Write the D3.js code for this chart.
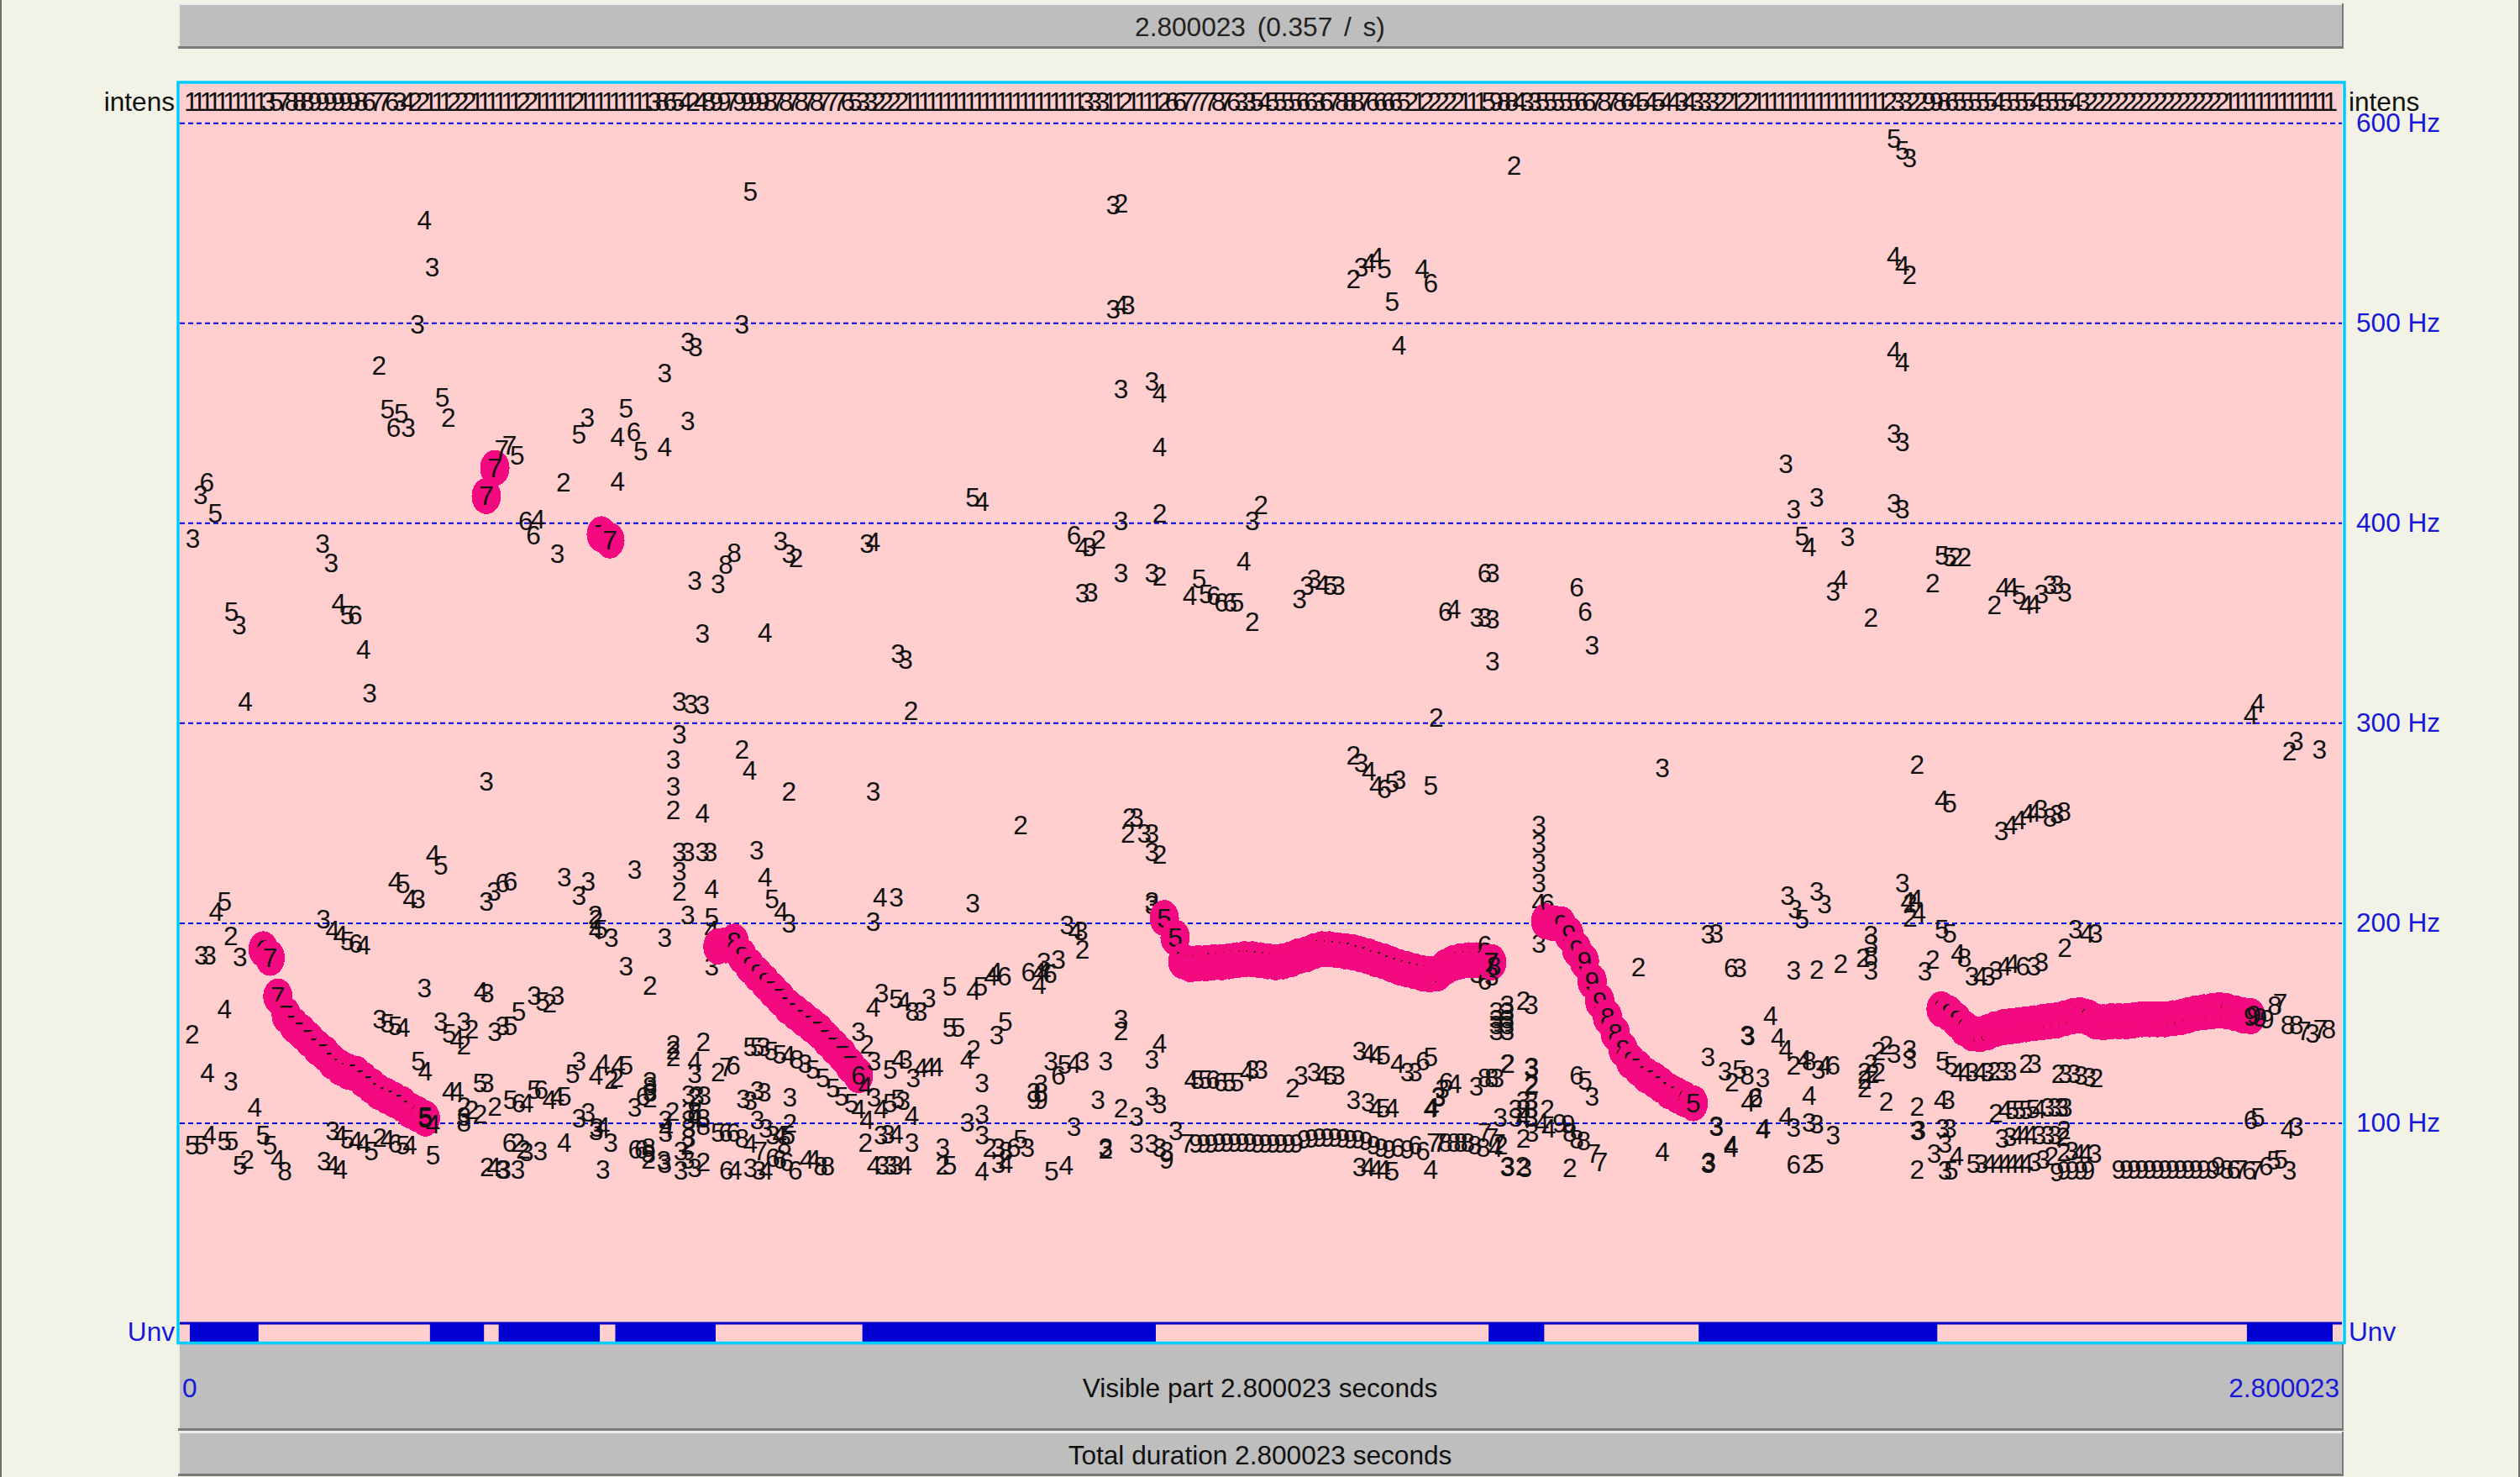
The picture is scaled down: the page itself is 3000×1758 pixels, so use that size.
<!DOCTYPE html>
<html><head><meta charset="utf-8">
<script src="https://cdn.jsdelivr.net/npm/d3@7"></script>
<style>html,body{margin:0;padding:0;background:#f2f3e6;overflow:hidden}svg{display:block}</style>
</head><body><svg id="c" width="3000" height="1758"></svg>
<script>
// ---- values: time is in centiseconds (0.01 s frames), frequency in Hz, third item the strength digit
const totalCs = 280.0023;
const hzTicks = [100,200,300,400,500,600];
const titleText = "2.800023 (0.357 / s)";
const visibleText = "Visible part 2.800023 seconds";
const totalText = "Total duration 2.800023 seconds";
const timeStartLabel = "0", timeEndLabel = "2.800023";
const unvoiced = [[1.3,10.2],[32.4,39.4],[41.3,54.4],[56.4,69.4],[88.4,126.4],[169.5,176.7],[196.7,227.6],[267.7,278.8]];
const intensity =
 "1111111111"+"3578889999"+"9986776342"+"2111222111"+"1112211111"+"2111111111"+"3865424899"+"7999987878"+"7877765332"+
 "2221111111"+"1111111111"+"1111113331"+"1211112667"+"7778763354"+"5555663678"+"8876666521"+"2222211159"+"8843355555"+
 "6678786454"+"5443433322"+"1221111111"+"1111111111"+"2332299865"+"5555455554"+"5555432222"+"2222222222"+"2222111111"+"11111111";

const pitchTrack = [
 [10.8,187,6],[11.7,182.7,7],
 [12.7,163.4,7],[13.8,154,7],[14.8,149,7],[15.8,145.6,7],[16.8,141.9,7],[17.8,137.9,7],[18.8,134.9,7],[19.8,130.8,7],[20.8,127.8,7],[21.8,125.8,7],[22.8,124.8,7],[23.8,121.7,7],[24.8,118.7,7],[25.8,115.6,7],[26.8,113.6,7],[27.8,111.6,7],[28.8,109.6,7],[29.8,106.5,7],[30.8,104.5,6],[31.8,102.4,5],
 [39.7,413.6,7],[40.8,427.6,7],[54.6,394.5,7],[55.7,391.4,7],
 [69.7,188.4,7],[70.7,189,7],[71.8,190.8,8],[72.8,183.7,8],[73.8,178.7,8],[74.8,174.6,8],[75.8,170.5,8],[76.8,166.5,7],[77.8,162.4,7],[78.8,158.3,7],[79.8,155.3,7],[80.8,152.2,7],[81.8,149.2,7],[82.8,146,7],[83.8,142,7],[84.8,138,7],[85.8,134,7],[86.8,129,7],[87.9,124,6],
 [127.5,202.6,5],[128.9,192.9,5],[129.9,181,7],[130.9,179.5,7],[131.9,180,7],[132.9,180,7],[133.9,180.5,7],[134.9,180.5,7],[135.9,181,7],[136.9,181.5,7],[137.9,182,7],[138.9,182,7],[139.9,181.5,7],[140.9,181,7],[141.9,180.5,7],[142.9,181,7],[143.9,182,7],[144.9,183.5,7],[145.9,184.5,7],[146.9,186,7],[147.9,187,7],[148.9,187,7],[149.9,186.5,7],[150.9,186,7],[151.9,185.5,7],[152.9,184.5,7],[153.9,183.5,7],[154.9,182,7],[155.9,181,7],[156.9,179.5,7],[157.9,178,7],[158.9,177,7],[159.9,176,7],[160.9,175,7],[161.9,174.5,7],[162.9,175,7],[163.9,178,7],[164.9,180,7],[165.9,181,7],[166.9,181.5,7],[167.9,181.5,7],[168.9,181.5,7],[169.9,180.5,7],
 [176.9,201,9],[177.9,200,9],[178.9,199.5,9],[179.9,194.5,9],[180.9,187,9],[181.9,181,9],[182.9,171,9],[183.9,161,9],[184.9,153,8],[185.9,145,8],[186.9,137,8],[187.9,131,8],[188.9,127.5,7],[189.9,124,7],[190.9,121.7,7],[191.9,119,7],[192.9,116,7],[193.9,114,7],[194.9,112,6],[196,110,5],
 [228.1,157,8],[229.1,155,8],[230.1,151.5,8],[231.1,147.5,8],[232.1,145,8],[233.1,144.5,8],[234.1,145.5,8],[235.1,147,8],[236.1,148,8],[237.1,148.5,8],[238.1,149,8],[239.1,149.5,8],[240.1,150,8],[241.1,150.5,8],[242.1,151,8],[243.1,151.5,8],[244.1,152.5,8],[245.1,153.5,8],[246.1,154,8],[247.1,153,8],[248.1,151,8],[249.1,150.5,8],[250.1,151,8],[251.1,151,8],[252.1,151,8],[253.1,151.5,8],[254.1,152,8],[255.1,152,8],[256.1,152,8],[257.1,152,8],[258.1,152.5,8],[259.1,153,8],[260.1,154,8],[261.1,155,8],[262.1,155.5,8],[263.1,156,8],[264.1,156.5,8],[265.1,156,8],[266.2,155,9],[267.2,154,9],[268.2,153.5,9]
];

const candidatesHighLeft = [
 [1.7,392.5,3],[3.5,420.6,6],[2.7,414,3],[4.6,405,5],[6.7,355.6,5],[7.7,349,3],[8.5,311,4],[18.5,390,3],[19.6,380,3],[20.6,360,4],[21.7,354,5],[22.7,354,6],[23.8,337,4],[24.6,315,3],[25.8,479,2],[26.9,457,5],[27.7,448,6],[28.7,455,5],[29.6,448,3],[30.8,499.5,3],[31.7,551.6,4],[32.7,528,3],[34,463,5],[34.8,453,2],
 [41.7,437,7],[42.7,439,7],[43.7,434,5],[44.8,401,6],[46.4,402,4],[45.8,394,6],[48.9,385,3],[49.7,420.5,2],[56.7,421,4],[51.7,444.5,5],[52.8,452.7,3],[56.7,443,4],[58.8,445.5,6],[57.8,457.5,5],[59.7,436,5],[62.8,438,4],[65.8,451,3],[62.8,475,3],[65.8,490.5,3],[66.8,488,3],[72.8,499.6,3],[73.9,566,5],
 [66.7,371.4,3],[69.7,369.6,3],[70.7,379.4,8],[71.8,385.3,8],[77.8,391,3],[78.9,385,3],[79.8,382.9,2],[67.7,344.7,3],[75.8,345.5,4],[64.7,311,3],[66.2,309.4,3],[67.7,309,3],[64.7,294.4,3],[63.9,282,3],[63.9,268.5,3],[63.9,256.7,2],[67.7,255,4],[72.8,287,2],[73.8,276.5,4],[78.9,266,2],[39.7,270.8,3]
];

const candidatesLowLeft = [
 [32.8,234.6,4],[33.8,229,5],[27.9,221,4],[28.9,219.7,5],[29.8,212,4],[30.9,212,3],[39.7,211,3],[40.7,216,3],[41.8,220,6],[42.8,221,6],[49.8,223,3],[51.7,214,3],[52.9,221,3],[58.9,227,3],[53.8,204,2],[53.9,196.5,4],[53.9,202,2],[54.5,197,5],[55.9,193,3],[62.8,193,3],[57.8,178.6,3],[60.9,169,2],
 [64.7,235.6,3],[65.8,235.6,3],[67.7,235.6,3],[68.7,235.6,3],[74.7,236.6,3],[64.7,226,3],[64.7,216,2],[68.9,217,4],[75.8,223,4],[76.7,212,5],[77.9,206,4],[78.9,200,3],[65.8,204,3],[68.9,203,5],[68.9,196.5,4],[68.9,178.6,3],
 [5.8,211,5],[4.7,206,4],[6.6,193.5,2],[2.8,184,3],[3.8,184,3],[7.8,183,3],[18.6,202,3],[19.8,196.5,4],[20.8,194,4],[21.7,191,5],[22.8,190,6],[23.8,189,4],[31.7,167.5,3],[39,166,4],[39.8,165,3],[5.8,157,4],[1.6,144.7,2],
 [25.9,152,3],[26.9,150,5],[27.9,148.6,5],[28.9,148,4],[33.8,151,3],[36.8,151,3],[34.9,145,5],[35.9,142,4],[37.8,147,2],[36.8,139,2],[40.8,145.7,3],[41.8,148.6,3],[42.8,148.6,5],[43.9,156,5],[45.9,164,3],[47,161,5],[47.9,160,2],[48.9,164,3],[30.9,131,5],[31.8,126,4],[3.6,125,4],[6.6,121,3],[9.7,108,4],
 [34.9,116,4],[35.9,116,4],[38.9,120,5],[39.8,120,3],[40.8,108.5,2],[42.8,111.6,5],[43.9,110,6],[44.9,110,4],[45.9,116.7,5],[46.8,116.7,6],[47.9,111.6,4],[48.9,113.6,4],[49.8,113.6,5],[36.8,108.5,2],[36.8,103.5,3],[36.8,100.4,8],[37.8,106.5,2],[38.9,104.5,2],[51.7,102.4,3],[52.9,105.5,3],[53.9,96,3],[54.8,98.4,4],[50.9,124.8,5],[51.7,131,3],[53.9,123.8,4],[54.8,130,4],[55.9,121.7,2],[56.6,122.8,2],[56.8,128.9,4],[57.8,128.9,5],
 [60.9,121,3],[60.9,118.4,8],[60.9,115.6,3],[60.9,112.5,2],[60,113.5,6],[58.9,108,3],[63.9,139.4,2],[63.9,136.6,2],[63.9,133,2],[67.8,140.8,2],[66.7,131,4],[66.7,124.7,3],[69.7,125.4,2],[70.8,128,7],[71.7,129,6],
 [73.9,138,5],[74.8,138,5],[75.6,138,3],[76.6,136,5],[77.7,134.5,5],[78.8,133.8,4],[79.9,131.7,8],[81,129.6,3],[82,126.8,5],[83.3,122.6,5],[84.6,117.7,5],[85.7,113.5,5],[87,110,5],
 [88.8,118.4,4],[89.9,112.8,3],[90.8,107,4],[89.9,131,3],[89,139.4,2],[87.9,145.7,3],[92,126.8,5],[93.1,131.7,4],[94,131.7,3],[95,122.6,3],[96,127.5,4],[97,128,4],[98,128,4],[89,101.6,4],[87.9,107,4],[92,110,5],[93,112,5],[93.7,111.4,3],[94.8,103.7,4],
 [73,112,3],[73.9,111.4,3],[74.8,116.3,3],[75.7,115.6,3],[79,112.8,3],[74.8,101.6,3],[75.9,97.4,3],[76.8,93.9,3],[79,100,2],[77.7,93.9,4],[78.8,93.9,5],
 [54,98,3],[55.8,90.4,3],[49.8,90.4,4],[46.7,86,3],[42.7,90.4,6],[43.8,90.4,2],[44.5,87,2],[44.9,85.5,3],[43.8,77,3],[42,77,3],[59,87,6],[59.8,87,6],[60.7,87.6,8],[60.7,84.8,3],[60.7,82,2],[62.7,81.3,3],[64.9,86,3],[64.9,76.4,3],[65.8,82,3],[65.8,89,2],[66.7,77.8,3],[67.8,80.6,2],[65.9,93,3],[65.9,97.4,3],
 [63.8,105.8,2],[62.9,101.6,3],[63,97.4,4],[62.9,95.3,3],[65.9,114.2,3],[67,114,3],[67.9,114,3],[66.7,112.8,2],[65.9,101.6,3],[66.7,102.3,4],[67.8,102.3,3],[67.8,98.8,8],[65.9,105.8,3],[66.7,105.8,8],
 [69.7,95.3,5],[70.7,95.3,6],[71.7,95.3,6],[72.8,92.5,8],[73.9,89.7,4],[75.2,86,7],[76.8,82.7,6],[77.7,82,6],[78.6,80.6,6],[79.7,76.4,6],[81.2,82,4],[82.1,82,4],[83,78.5,8],[83.9,78.5,8],[78.3,89,8],[70.8,76.4,6],[71.9,76.4,4],[73.9,77.8,3],[75,76.4,3],[75.9,76.4,4],
 [88.8,90.4,2],[90.8,93.9,3],[91.7,94.6,3],[92.8,94.6,4],[94.8,90.4,3],[89.9,79,4],[91,79,3],[92,79,3],[92.8,79,3],[93.9,79,4],
 [1.6,89,5],[2.8,89,5],[3.8,94,4],[5.8,91,5],[6.7,91,5],[7.8,79,5],[8.7,82,2],[10.8,94,5],[11.7,89,5],[12.7,82,4],[13.6,76,8],[19.8,96,3],[20.8,94,4],[21.7,92,5],[22.8,91,4],[23.8,90,4],[24.8,86,5],[25.9,93,2],[26.9,92,4],[27.9,90,6],[28.9,89,5],[29.8,89,4],[32.8,84,5],[18.7,81,3],[19.8,79,4],[20.8,77,4],[39.8,78,2],[40.7,78,4],[41.8,77,3],[31.8,103.5,5],[32.8,99.4,4],[54.8,77,3],[62.8,80,3]
];

const candidatesHighMiddle = [
 [172.8,579,2],[120.9,559,3],[121.9,560,2],[152,522,2],[153,528,3],[154,530,4],[155,533,4],[156,527,5],[160.9,527,4],[162,520,6],[157,511,5],[120.9,507,3],[121.9,509,4],[122.8,509,3],[157.9,489,4],[121.9,467,3],[125.9,471,3],[126.9,465,4],[126.9,438,4],[102.7,413,5],[103.9,411,4],[121.9,401,3],[126.9,405,2],[140,409,2],[138.9,401,3],[115.8,394,6],[116.9,388,4],[117.8,388,3],[119,392,2],[89,390,3],[89.8,390.5,4],[121.9,375,3],[125.9,375,3],[126.9,373.5,2],[137.8,381,4],[116.9,365,3],[118,365.5,3],
 [132,372,5],[130.8,363.6,4],[132.9,364.6,5],[133.9,363.6,6],[134.9,360.6,6],[136,360.6,6],[136.9,360.6,5],[138.9,350.7,2],[145,362,3],[146,369,3],[146.9,372,3],[148,369.4,4],[149,369,5],[150,369,3],[169,375,6],[170,375,3],[163.9,356,6],[165,357,4],[168,353,3],[169,353,3],[170,352,3],[180.9,368,6],[182,356,6],[182.9,339,3],[170,331,3],[93,335,3],[94,332,3],[94.7,306.4,2],[162.7,303,2],
 [89.8,266,3],[108.9,249,2],[152,284,2],[153,280,3],[154,276,4],[155,269,4],[156,267,6],[157,270,5],[157.9,272,3],[162,269,5],[192,277.5,3],[176,249,3],[123,253,2],[123.9,253,3],[122.8,245,2],[124.9,245,3],[125.9,245,3],[126.9,234.6,2],[125.9,235.6,3]
];

const candidatesLowMiddle = [
 [90.7,213,4],[92.8,213,3],[89.8,201,3],[102.7,210,3],[114.9,199,3],[116,196,4],[116.7,196,3],[116.9,187,2],[125.9,209,3],[99.7,168.5,5],[97,162.4,3],[92.8,162,5],[93.8,161,4],[94.9,156,8],[95.9,156,3],[89.8,158,4],[90.9,165,3],[102.8,166.5,4],[103.7,168.5,5],[105.6,175.6,4],[105.1,173.6,4],[106.8,173.6,6],[109.9,175.6,6],[111.3,175.6,4],[111.9,175.6,4],[112.7,174.6,6],[111.3,169.5,4],[111.9,180.7,3],[113.8,181.7,3],
 [99.7,148,5],[100.8,148,5],[105.8,144,3],[106.9,151,5],[102.8,137,2],[102,132,4],[103.9,120,3],[112.8,131,3],[114.6,129.5,5],[115.8,130,4],[116.9,131,3],[113.8,123.8,6],[119.9,131,3],[111.5,119.7,3],[111.5,115.6,8],[111.5,111.6,9],[110.6,115.6,3],[110.6,111.6,9],[121.9,152,3],[121.9,146,2],[126.9,140,4],[125.9,132,3],[118.9,111.6,3],[121.9,107.5,2],[123.9,103.5,3],[125.9,113.6,3],[126.9,109.6,3],[115.8,98.4,3],
 [102,100.4,3],[103.9,104.5,3],[103.9,94.3,3],[98.8,88,3],[99.7,79,5],[98.8,79,2],[104.9,88,2],[106,88,3],[107,86,8],[108.9,92,5],[109.8,88,3],[108,88,6],[103.9,76,4],[106,80,3],[107,80,4],[112.9,76,5],[114.8,79,4],[119.9,88,3],[119.9,87,2],[123.9,90,3],[125.9,90,3],[126.9,88,3],[127.8,86,3],[127.8,82,9],[129,96.3,3],
 [130.5,90,7],[131.6,90,9],[132.6,90,9],[133.6,90,9],[134.6,90.5,9],[135.6,90.5,9],[136.6,90.5,9],[137.6,90.5,9],[138.6,90.5,9],[139.6,90,9],[140.6,90,9],[141.6,90,9],[142.6,90,9],[143.6,90,9],[144.6,90,9],[145.6,92,9],[146.6,92.5,9],[147.6,93,9],[148.6,93,9],[149.6,93,9],[150.6,92.5,9],[151.6,92,9],[152.6,92,9],[153.6,91,9],[154.6,89,9],[155.6,88,9],[156.6,87,9],[157.7,88,6],[159,87,9],[160,89,6],[161,86,6],
 [162.4,90.4,7],[163.2,90.4,7],[163.9,90.4,8],[165,90.4,8],[165.9,90.4,8],[166.8,90.4,8],[167.7,89,8],[169,95.3,7],[169.9,93,7],[170.8,90,7],[170.4,87.6,4],[171.1,89,2],[168.8,87.6,8],[172,78.5,3],[173.9,78.5,2],[174.2,77.8,3],[174,92.5,2],[175.1,95.3,3],[171,103,3],[173,107,3],[174,111.4,3],[175,111.4,3],[173,103,3],[174,107,3],[175,107,3],[174,103,4],[175,103,3],[175.1,119.8,2],[175.1,128.2,3],[172,129.6,2],[167.9,118.4,3],[169,122.6,8],[169.9,122.6,8],[170.6,122.6,3],
 [163.5,117,3],[164,120.5,6],[165.1,119.8,4],[163,112.8,3],[162.2,108,4],[180.9,124,6],[182,121.2,5],[182.9,113.5,3],[180,77.8,2],[183.1,84.8,7],[184,80.6,7],[177.1,107,2],[177.3,97.4,4],[176.4,100,4],[178.7,100,9],[179.8,99.5,9],[180,95.3,8],[180.9,91.8,8],[181.8,91,8],[192,85.5,4],[198,80.6,3],[200.9,89,4],[199,98.8,3],[205.1,97.4,4],
 [200.1,126,3],[202,126.8,5],[201,120.5,2],[203,124,8],[205,122.6,3],[204.1,112.8,6],[203,144,3],
 [144.1,117.7,2],[145.2,123.8,3],[146.9,125.8,3],[148,123.8,4],[149,123.8,5],[150,123.8,3],[131,121.7,4],[131.8,121.7,5],[132.8,121.7,5],[133.8,121.7,6],[134.8,120.7,6],[135.9,120.7,5],[136.9,120.7,5],[138.2,125.8,4],[138.9,126.8,3],[140,126.8,3],
 [152.8,136,3],[153.9,135,4],[154.9,134,4],[155.9,134,5],[157.7,130,4],[159,125.8,3],[160,125.8,3],[161,131,6],[162,133,5],[152,111.6,3],[153.9,110.6,3],[154.9,107.5,4],[155.9,107.5,5],[157,107.5,4],[162,107.5,4],[163,113.6,3],[152.8,78,3],[153.9,78,4],[154.9,77,4],[155.9,77,4],[157,76,5],[162,77,4],[171.9,78,3],[175,127.8,3],[171.9,130,2],
 [176,240,3],[176,230,3],[176,220,3],[176,210,4],[177.1,210,6],[176,190,3],[169,189,6],[169.8,180.7,7],[170.2,178.6,8],[169,171.5,6],[168,174.6,3],[169.9,173.6,3],[174,161.4,2],[175,159.3,3],[171.9,159.3,3],[170.5,156,3],[170.5,152,3],[170.5,149,3],[170.5,146,3],[171.9,156,3],[171.9,152,3],[171.9,149,3],[171.9,146,3],[175,118.7,2],[188.9,178.3,2],[125.9,211,3]
];

const candidatesRight = [
 [223.1,220,3],[224.8,212,4],[224.1,210,2],[223.8,211,4],[224.1,203,2],[225.2,205,4],[208.2,214,3],[209.2,207,3],[210.1,202,5],[212,216,3],[213,209.5,3],[197.9,194.5,3],[199,195,3],[219,194,3],[219,190,3],[218,182.7,2],[219,183.7,8],[219,176.6,3],[200.9,177.6,6],[202,177.6,3],[209,176.6,3],[212,177,2],[215.1,179.7,2],
 [228.2,197,5],[229.2,195,5],[230.3,184.8,4],[231.1,182.7,8],[227,181.7,2],[226,176,3],[232.1,173.6,3],[233.2,173.6,4],[234.2,173.6,3],[235.2,176.6,3],[236.3,178.6,4],[237.3,179.7,4],[238.7,178.6,6],[240.1,178.6,3],[241.1,180.7,3],[244.1,187.8,2],[245.5,197,3],[247,195,4],[248.1,195,3],
 [206,153.9,4],[203.1,143.7,3],[207,143,4],[208,137,4],[209,128.9,2],[210.4,132,4],[211,131,8],[212.2,126.8,3],[213,128.9,4],[214.1,128.9,6],[197.9,133,3],[203.1,110.6,4],[204,112.6,2],[211,114,4],[208,103.5,4],[209,97.8,3],[211,100.4,3],[212,99.4,3],[214.1,94.3,3],[205,97,4],[199,98.4,3],[200.9,88,4],[197.9,80,3],[209,79.5,6],[211,80,2],[212,80,5],
 [221,139,2],[220,136,2],[222,135,3],[224,137,3],[224,132,3],[219,130,2],[220,125.8,2],[218.2,125.8,2],[218.2,121.7,2],[218.2,117.7,2],[219.2,124.8,2],[221,111,2],[225,108.5,2],[225,96.3,3],[225.2,96.7,3],[225,77,2],[228.1,111.6,4],[229,111.6,3],[228.3,97.4,3],[229.2,97.4,3],[228.6,89.7,3],[227.2,84.8,3],[230.1,83.4,4],[228.6,76.4,3],[229.4,76.4,5],
 [232.3,79.9,5],[233.3,79.9,3],[234.4,79.9,4],[235.5,79.9,4],[236.4,79.9,4],[237.3,79.9,4],[238.2,79.9,4],[239.1,79.9,4],[240.2,80.6,3],[241.3,82,3],[242.4,83.4,2],[243.1,75.7,9],[244,76.4,9],[245.1,76.4,9],[246.2,76.4,9],[247.1,76.4,9],[244,85.5,2],[245,86.2,3],[245.9,84.8,4],[246.8,84.8,4],[248,84.8,3],
 [251.1,77,9],[252.1,77,9],[253.1,77,9],[254.1,77,9],[255.1,77,9],[256.1,77,9],[257.1,77,9],[258.1,77,9],[259.1,77,9],[260.1,77,9],[261.1,77,9],[262.1,77,9],[263.3,77,9],[264,78.5,9],[265.1,77,8],[266,77,6],[266.9,77,7],[268,76.4,6],[268.9,76.4,7],[270.2,78.5,6],[271.2,81.3,5],[272.1,82,5],[273.2,76.4,3],
 [236,92.5,3],[237,93.2,3],[237.9,93.9,4],[238.8,93.9,4],[239.7,93.9,4],[240.8,93.9,3],[241.9,93.9,3],[242.8,93.9,3],[244,96.7,2],[243.9,93.2,2],[235.2,105,2],[236.4,106.5,4],[237.3,106.5,5],[238.2,106.5,5],[239.1,106.5,5],[240,107,5],[240.8,107,4],[241.9,108,3],[242.8,108,3],[243.7,108,3],[244.2,108,3],
 [228.3,131,5],[229.4,129,5],[230.2,125.4,4],[231.2,125.4,4],[232.1,125.4,3],[233.2,125.4,4],[234.1,125.4,3],[235,126,2],[236,126,3],[237,126,3],[239.1,130,2],[240.2,129.6,3],[243.3,124.7,2],[244.2,124.7,3],[245.3,124.7,3],[246.2,124,3],[247.3,123,3],[248.2,122.6,2],
 [268.2,101.6,6],[269.1,103,5],[273,97,4],[274.1,98.4,3],[268.6,154,9],[269.4,153,9],[270.3,152,9],[272,160,7],[271.3,159,8],[273,149,8],[274.1,149,8],[275.1,146,7],[276.2,145,3],[277.2,147,7],[278.3,147,8],
 [222,592.5,5],[223.1,586.6,5],[224,582.6,3],[222,533.5,4],[223.1,529,4],[224,524.4,2],[222,486,4],[223.1,480.7,4],[222,445,3],[223.1,440.5,3],[222,410,3],[223.1,407,3],[208,429.8,3],[212,413,3],[209,407,3],[210.1,393.6,5],[211,388,4],[216,393,3],[215.1,371.6,4],[214.1,366,3],[219,353,2],[227,370,2],[228.2,384,5],[229.2,383,5],[230,383,2],[231.1,383,2],
 [235,359,2],[236.1,368,4],[237.2,368,4],[238.2,364,5],[239.1,359,4],[240.1,359.5,4],[241.1,364.6,3],[242.2,369.4,3],[243.1,369.4,3],[244.1,365.4,3],[269.1,310,4],[268.2,304,4],[273.2,286,2],[274.1,291,3],[277.1,287,3],[225,279.5,2],[228.2,261.5,4],[229.2,260,5],[235.9,246,3],[237.1,249,4],[238.2,251.5,4],[239.3,255,4],[240.1,255.5,4],[241,257,3],[242.2,253,8],[243.1,254.5,3],[244,256,8]
];

// ---- layout
const W=3000,H=1758;
const plot={l:214,r:2788,t:100,b:1597};
const x=d3.scaleLinear().domain([0,totalCs]).range([plot.l,plot.r]);
const y=d3.scaleLinear().domain([0,600]).range([1575,146.7]);
const font="'Liberation Sans',Arial,sans-serif", fs=31.6;
const blue="#1818d8", bar="#bebebe", pink="#f40a80";
const svg=d3.select("#c").style("font-family",font);

svg.append("rect").attr("width",W).attr("height",H).attr("fill","#f2f3e6");
svg.append("rect").attr("width",2).attr("height",H).attr("fill","#6e6e6e");
svg.append("rect").attr("x",W-2).attr("width",2).attr("height",H).attr("fill","#6e6e6e");

function panel(y0,y1){
  const g=svg.append("g");
  g.append("rect").attr("x",212).attr("y",y0-2).attr("width",2578).attr("height",y1-y0+2).attr("fill","#ececec");
  g.append("rect").attr("x",214).attr("y",y0).attr("width",2574).attr("height",y1-y0).attr("fill",bar);
  g.append("rect").attr("x",212).attr("y",y1).attr("width",2578).attr("height",3).attr("fill","#7a7a7a");
  g.append("rect").attr("x",2788).attr("y",y0-2).attr("width",2).attr("height",y1-y0+5).attr("fill","#7a7a7a");
}
panel(6,55);
panel(1600,1700);
panel(1706,1754);

const label=(t,px,py,anchor,fill)=>svg.append("text").text(t).attr("x",px).attr("y",py)
  .attr("text-anchor",anchor).attr("dominant-baseline","central").attr("font-size",fs).attr("fill",fill);

label(titleText,1500,32,"middle","#222").attr("word-spacing",5);
label(visibleText,1500,1652,"middle","#111");
label(totalText,1500,1732,"middle","#111");
label(timeStartLabel,217,1652,"start",blue);
label(timeEndLabel,2785,1652,"end",blue);
label("intens",208,121,"end","#111");
label("intens",2796,121,"start","#111");
label("Unv",208,1585,"end",blue);
label("Unv",2796,1585,"start",blue);

// plot background
svg.append("rect").attr("x",plot.l).attr("y",plot.t).attr("width",plot.r-plot.l).attr("height",plot.b-plot.t).attr("fill","#ffcfcf");

// grid
svg.append("g").selectAll("line").data(hzTicks).join("line")
  .attr("x1",plot.l).attr("x2",plot.r).attr("y1",d=>y(d)).attr("y2",d=>y(d))
  .attr("stroke","#0000e0").attr("stroke-width",2).attr("stroke-dasharray","6 4");
svg.append("g").selectAll("text").data(hzTicks).join("text")
  .text(d=>d+" Hz").attr("x",2805).attr("y",d=>y(d)-1)
  .attr("dominant-baseline","central").attr("font-size",fs).attr("fill",blue);

// voicing strip
svg.append("line").attr("x1",plot.l).attr("x2",plot.r).attr("y1",y(0)).attr("y2",y(0)).attr("stroke","#0000c8").attr("stroke-width",3);
svg.append("g").selectAll("rect").data(unvoiced).join("rect")
  .attr("x",d=>x(d[0])).attr("width",d=>x(d[1])-x(d[0])).attr("y",y(0)).attr("height",plot.b-y(0)).attr("fill","#0000d0");

// intensity digits
svg.append("g").selectAll("text").data(intensity.split("")).join("text")
  .text(d=>d).attr("x",(d,i)=>x(i+1.5)).attr("y",121).attr("text-anchor","middle")
  .attr("dominant-baseline","central").attr("font-size",fs).attr("fill","#111");

// candidates + pitch discs, frame by frame so that later discs cover earlier digits
const candidates=[...candidatesHighLeft,...candidatesLowLeft,...candidatesHighMiddle,...candidatesLowMiddle,...candidatesRight];
const marks=[...candidates.map(d=>({f:d[0],hz:d[1],s:d[2],o:1})),...pitchTrack.map(d=>({f:d[0],hz:d[1],s:d[2],o:0,ball:true}))]
  .sort((a,b)=>d3.ascending(Math.round(a.f),Math.round(b.f))||d3.ascending(a.o,b.o));
const mg=svg.append("g");
marks.forEach(m=>{
  if(m.ball) mg.append("ellipse").attr("cx",x(m.f)).attr("cy",y(m.hz)).attr("rx",17.5).attr("ry",21.5).attr("fill",pink).attr("shape-rendering","crispEdges");
  mg.append("text").text(m.s).attr("x",x(m.f)).attr("y",y(m.hz)).attr("text-anchor","middle")
    .attr("dominant-baseline","central").attr("font-size",fs).attr("fill","#111");
});

// frame
svg.append("rect").attr("x",212).attr("y",98).attr("width",2579).attr("height",1500.5).attr("fill","none").attr("stroke","#00ccff").attr("stroke-width",3.5);
</script></body></html>
